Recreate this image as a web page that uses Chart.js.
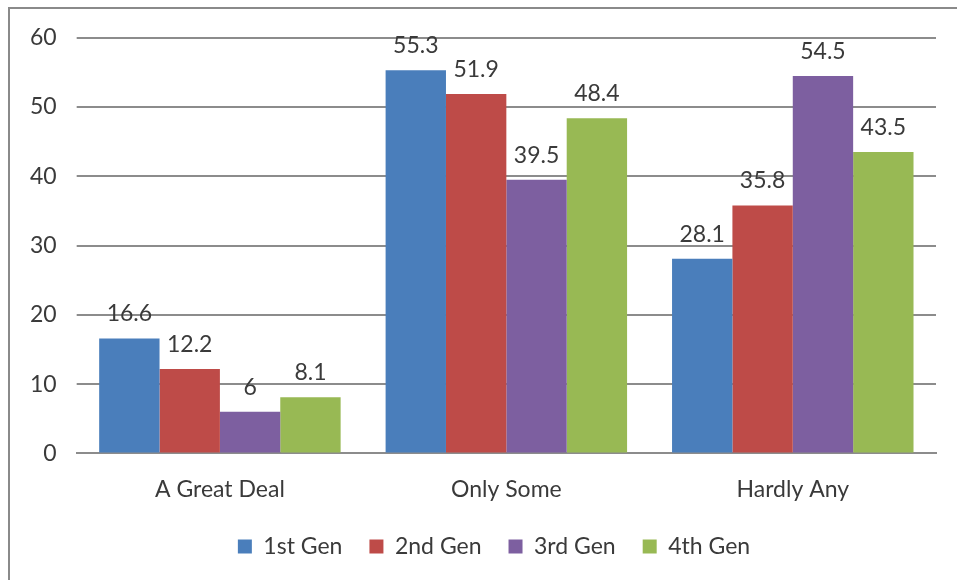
<!DOCTYPE html>
<html>
<head>
<meta charset="utf-8">
<script src="https://cdn.jsdelivr.net/npm/chart.js@4/dist/chart.umd.min.js"></script>
<style>
  html, body { margin: 0; padding: 0; background: #fff; }
  #frame {
    position: absolute; left: 8px; top: 7px; width: 949px; height: 573px;
    border-top: 2px solid #8a8a8a; border-left: 2px solid #8a8a8a;
    box-sizing: border-box;
  }
  #wrap { position: absolute; left: 0; top: -5px; width: 947px; height: 576px; }
</style>
</head>
<body>
<div id="frame"><div id="wrap"><canvas id="chart"></canvas></div></div>
<script>
// data
const categories = ['A Great Deal', 'Only Some', 'Hardly Any'];
const seriesNames = ['1st Gen', '2nd Gen', '3rd Gen', '4th Gen'];
const gen1 = [16.6, 55.3, 28.1];
const gen2 = [12.2, 51.9, 35.8];
const gen3 = [6, 39.5, 54.5];
const gen4 = [8.1, 48.4, 43.5];
const yTicks = [0, 10, 20, 30, 40, 50, 60];
const colors = ['#4a7ebb', '#be4b48', '#7d5fa0', '#98b954'];
// data

const font = "Lato, 'Open Sans', sans-serif";

// labels above the bars
const barLabels = {
    id: 'barLabels',
    afterDatasetsDraw(chart) {
        const ctx = chart.ctx;
        ctx.save();
        ctx.font = `23px ${font}`;
        ctx.fillStyle = '#3a3a3a';
        ctx.textAlign = 'center';
        ctx.textBaseline = 'alphabetic';
        chart.data.datasets.forEach((ds, i) => {
            chart.getDatasetMeta(i).data.forEach((bar, j) => {
                ctx.fillText(`${ds.data[j]}`, bar.x, bar.y - 17);
            });
        });
        ctx.restore();
    }
};

// nudge the legend a bit (Excel puts it slightly right and higher)
const legendShift = {
    id: 'legendShift',
    afterLayout(chart) {
        const lg = chart.legend;
        lg.left += 21; lg.right += 21;
        lg.top -= 9; lg.bottom -= 9;
    }
};

new Chart(document.getElementById('chart'), {
    type: 'bar',
    data: {
        labels: categories,
        datasets: [gen1, gen2, gen3, gen4].map((d, i) => ({
            label: seriesNames[i],
            data: d,
            backgroundColor: colors[i],
            borderWidth: 0,
            categoryPercentage: 0.843,
            barPercentage: 1
        }))
    },
    options: {
        responsive: true,
        maintainAspectRatio: false,
        animation: false,
        layout: { padding: { left: 0, right: 21, top: 0, bottom: 3 } },
        plugins: {
            tooltip: { enabled: false },
            legend: {
                position: 'bottom',
                labels: {
                    font: { family: font, size: 23 },
                    color: '#3a3a3a',
                    boxWidth: 14,
                    boxHeight: 14,
                    padding: 27
                }
            }
        },
        scales: {
            x: {
                grid: { display: false },
                border: { color: '#8c8c8c', width: 2 },
                ticks: { font: { family: font, size: 23 }, color: '#3a3a3a', padding: 14 }
            },
            y: {
                min: 0,
                max: 60,
                afterBuildTicks(axis) { axis.ticks = yTicks.map(v => ({ value: v })); },
                border: { display: false },
                grid: { color: '#8c8c8c', lineWidth: 2, tickLength: 0 },
                ticks: { font: { family: font, size: 23 }, color: '#3a3a3a', padding: 20 }
            }
        }
    },
    plugins: [barLabels, legendShift]
});
</script>
</body>
</html>
